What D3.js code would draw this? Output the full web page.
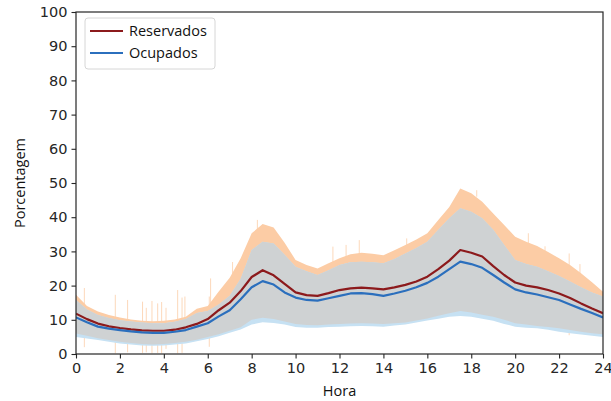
<!DOCTYPE html>
<html>
<head>
<meta charset="utf-8">
<script src="https://cdn.jsdelivr.net/npm/d3@7"></script>
<style>
  body { margin: 0; background: #fff; }
  svg { display: block; }
  .tick text { font-family: "DejaVu Sans", sans-serif; font-size: 14.5px; fill: #262626; }
  .lbl { font-family: "Open Sans", sans-serif; font-size: 14.5px; fill: #111; }
</style>
</head>
<body>
<svg id="graph" width="611" height="401"></svg>
<script>
var hours = [0,0.5,1,1.5,2,2.5,3,3.5,4,4.5,5,5.5,6,6.5,7,7.5,8,8.5,9,9.5,10,10.5,11,11.5,12,12.5,13,13.5,14,14.5,15,15.5,16,16.5,17,17.5,18,18.5,19,19.5,20,20.5,21,21.5,22,22.5,23,23.5,24];

var resMean = [11.8,10.2,8.9,8.1,7.6,7.2,6.9,6.8,6.8,7.1,7.8,8.8,10.2,12.8,15,18.4,22.5,24.5,23,20.5,18,17.2,17,17.8,18.7,19.2,19.4,19.2,18.9,19.5,20.2,21.2,22.6,24.8,27.3,30.4,29.6,28.5,25.7,23.1,20.9,20,19.5,18.7,17.7,16.4,14.8,13.3,11.9];
var occMean = [10.7,9.3,8.0,7.4,7.0,6.6,6.3,6.2,6.2,6.5,7.0,8.0,9.0,11,12.8,16,19.5,21.3,20.3,18,16.5,15.8,15.6,16.3,17,17.7,17.8,17.5,17,17.7,18.5,19.5,20.8,22.6,24.8,27,26.3,25.2,23.1,20.9,18.9,18,17.4,16.6,15.8,14.5,13.2,12,10.7];

var resUpper = [17.3,14,12.4,11.4,10.7,10.1,9.7,9.6,9.7,10.1,10.9,13.2,14,18.3,22.3,28,35.3,38,37,32.5,27.5,26,25,26.5,28,29.2,29.6,29.3,28.9,30.3,31.9,33.5,35.3,39.2,43,48.4,47,44.5,41.1,37.7,34.3,32.8,31.6,29.8,28,26,23.6,21,18.2];
var occUpper = [15.8,13,11.4,10.5,9.9,9.5,9.2,9,9,9.4,10.2,12,12.6,14.5,17,22,30.4,32.8,32.3,29,25.5,24.2,23.1,24.5,26,26.8,27,26.8,26.5,27.8,29.4,31,32.8,36.3,39.7,42.6,41.6,39.7,36.3,31.9,27.5,26.3,25.5,24.2,22.8,21.2,19.5,18,16.8];
var resLower = [6,5.3,4.6,4.1,3.6,3.2,2.9,2.8,2.9,3.2,3.6,4.2,5,5.8,6.8,7.8,10,10.6,10.2,9.5,8.8,8.5,8.4,8.6,8.8,8.9,9,8.9,8.8,9,9.2,9.8,10.4,11.2,11.9,12.6,12.1,11.5,10.9,10,9,8.6,8.2,7.9,7.5,7,6.5,6.1,5.8];
var occLower = [5,4.5,4.1,3.6,3.1,2.8,2.5,2.4,2.5,2.8,3.1,3.7,4.4,5.2,6.2,7.2,8.6,9.3,9.1,8.6,7.9,7.7,7.7,7.9,8,8.1,8.2,8.1,8,8.3,8.6,9.2,9.8,10.3,10.9,11.1,10.9,10.3,9.7,8.8,8,7.7,7.5,7.1,6.5,6.1,5.7,5.3,5];

// single-sample outliers of the reserved band
var spikeHours = [0.38,1.79,2.35,3.03,3.2,3.46,3.72,3.9,4.1,4.63,4.83,4.96,6.07,6.13,7.13,8.26,11.7,12.3,12.9,15.06,18.25,20.6,21.36,22.46,22.95];
var spikeLo    = [2,0.2,0.5,0.3,0.5,0.2,0.3,0.2,1.5,0.2,0.3,4.1,2.1,13,22,35,25,28,29,31,46,32,29,5.5,23];
var spikeHi    = [19.3,17.3,15.8,15.3,13.5,15.5,14.8,15.2,13.5,18.7,16.5,16.8,16.8,22.1,26.9,39.2,31.4,31.9,33.3,33.8,47.9,35.3,31.5,29.4,26.3];

var xTicks = [0,2,4,6,8,10,12,14,16,18,20,22,24];
var yTicks = [0,10,20,30,40,50,60,70,80,90,100];
var seriesNames = ["Reservados", "Ocupados"];
var seriesColors = ["#8c1a1c", "#2b6fbd"];

var margin = {top: 12, right: 8, bottom: 47, left: 76};
var svg = d3.select("#graph");
var width = 611 - margin.left - margin.right;
var height = 401 - margin.top - margin.bottom;
var g = svg.append("g").attr("transform", "translate(" + margin.left + "," + margin.top + ")");

var x = d3.scaleLinear().domain([0, 24]).range([0, width]);
var y = d3.scaleLinear().domain([0, 100]).range([height, 0]);

g.append("clipPath").attr("id", "clip").append("rect").attr("width", width).attr("height", height);
var plot = g.append("g").attr("clip-path", "url(#clip)");

// spikes
plot.selectAll("line.spike")
    .data(spikeHours)
    .enter()
    .append("line")
    .attr("class", "spike")
    .attr("x1", function(d) {return x(d);})
    .attr("x2", function(d) {return x(d);})
    .attr("y1", function(d, i) {return y(spikeLo[i]);})
    .attr("y2", function(d, i) {return y(spikeHi[i]);})
    .attr("stroke", "#fbc89d")
    .attr("stroke-opacity", 0.7)
    .attr("stroke-width", 1);

function band(lo, hi) {
    return d3.area()
        .x(function(d, i) {return x(hours[i]);})
        .y0(function(d, i) {return y(lo[i]);})
        .y1(function(d, i) {return y(hi[i]);})(hours);
}

plot.append("path").attr("d", band(resLower, resUpper)).attr("fill", "#fccca5");
plot.append("path").attr("d", band(occLower, occUpper)).attr("fill", "#c6e1f3");
plot.append("path").attr("d", band(resLower, occUpper)).attr("fill", "#cfd2d3");

function line(vals) {
    return d3.line()
        .x(function(d, i) {return x(hours[i]);})
        .y(function(d, i) {return y(vals[i]);})(hours);
}

plot.append("path").attr("d", line(resMean)).attr("fill", "none")
    .attr("stroke", seriesColors[0]).attr("stroke-width", 2.2).attr("stroke-linejoin", "round");
plot.append("path").attr("d", line(occMean)).attr("fill", "none")
    .attr("stroke", seriesColors[1]).attr("stroke-width", 2.2).attr("stroke-linejoin", "round");

// axes
var xAxis = g.append("g").attr("transform", "translate(0," + height + ")")
    .call(d3.axisBottom(x).tickValues(xTicks).tickSize(4.5).tickPadding(4).tickFormat(d3.format("d")));
var yAxis = g.append("g")
    .call(d3.axisLeft(y).tickValues(yTicks).tickSize(4.5).tickPadding(4).tickFormat(d3.format("d")));
[xAxis, yAxis].forEach(function(a) {
    a.select(".domain").remove();
    a.selectAll(".tick line").attr("stroke", "#262626").attr("stroke-width", 1.1);
});

g.append("rect").attr("width", width).attr("height", height)
    .attr("fill", "none").attr("stroke", "#262626").attr("stroke-width", 1.2);

g.append("text").attr("class", "lbl").attr("text-anchor", "middle")
    .attr("x", width / 2).attr("y", height + 42).text("Hora");
g.append("text").attr("class", "lbl").attr("text-anchor", "middle")
    .attr("transform", "translate(" + (-51) + "," + (height / 2) + ") rotate(-90)").text("Porcentagem");

// legend
var leg = g.append("g").attr("transform", "translate(9,6)");
leg.append("rect").attr("width", 130).attr("height", 51).attr("rx", 3)
    .attr("fill", "#fff").attr("fill-opacity", 0.8).attr("stroke", "#d6d6d6");
seriesNames.forEach(function(name, i) {
    var yy = 13 + i * 22;
    leg.append("line").attr("x1", 5).attr("x2", 38).attr("y1", yy).attr("y2", yy)
        .attr("stroke", seriesColors[i]).attr("stroke-width", 2.2);
    leg.append("text").attr("class", "lbl").attr("x", 44).attr("y", yy + 5).text(name);
});
</script>
</body>
</html>
